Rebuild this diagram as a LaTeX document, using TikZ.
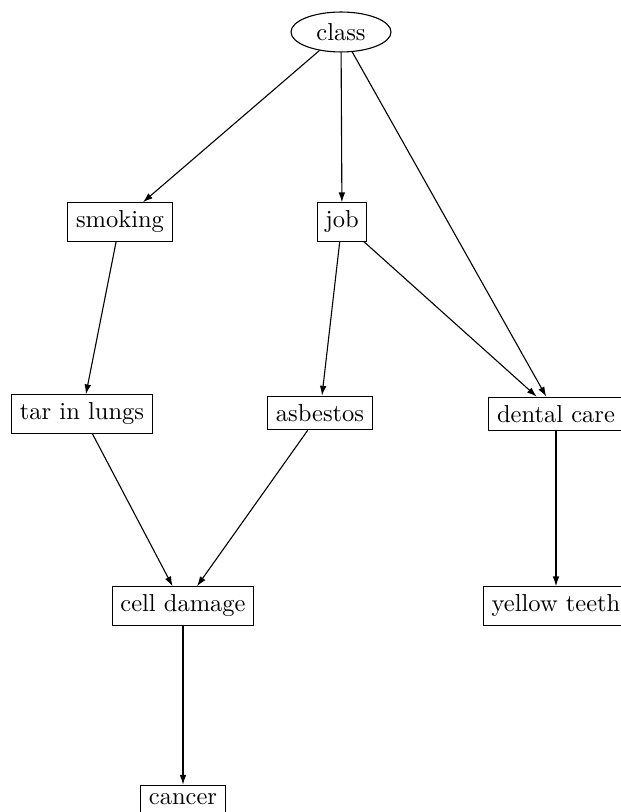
\documentclass[tikz,border=0pt]{standalone}
\usepackage{tikz}
\usetikzlibrary{arrows.meta, shapes.geometric}
\tikzset{
  %% variable nodes
  varbox/.style={rectangle, draw, inner sep=3.33pt, line width=0.45pt},
  rootvar/.style={ellipse, draw, inner sep=0pt, minimum width=40.8pt,
                  minimum height=16.3pt, line width=0.45pt},
  %% causal arrows
  causearrow/.style={-{Latex[length=4pt,width=2.7pt]}, line width=0.45pt},
}
\begin{document}
\begin{tikzpicture}[x=0.408pt, y=-0.408pt]
\useasboundingbox (0,0) rectangle (620,812);

%% ============================================================
%%  NODES  (pixel grid, rows 32 / 222 / 413 / 606 / 798)
%% ============================================================
\node[rootvar] (class)  at (341, 32)  {class};

\node[varbox] (smoking) at (120, 222) {smoking};
\node[varbox] (job)     at (342, 222) {job};

\node[varbox] (tar)      at (82, 414)  {tar in lungs};
\node[varbox] (asbestos) at (320, 413) {asbestos};
\node[varbox] (dental)   at (556, 414) {dental care};

\node[varbox] (cell)   at (183, 606) {cell damage};
\node[varbox] (yellow) at (556, 606) {yellow teeth};

\node[varbox] (cancer) at (183, 799) {cancer};

%% ============================================================
%%  EDGES
%% ============================================================
\draw[causearrow] (class) -- (smoking);
\draw[causearrow] (class) -- (job);
\draw[causearrow] (class) -- (dental);
\draw[causearrow] (smoking) -- (tar);
\draw[causearrow] (job) -- (asbestos);
\draw[causearrow] (job) -- (dental);
\draw[causearrow] (tar) -- (cell);
\draw[causearrow] (asbestos) -- (cell);
\draw[causearrow] (dental) -- (yellow);
\draw[causearrow] (cell) -- (cancer);

\end{tikzpicture}
\end{document}
